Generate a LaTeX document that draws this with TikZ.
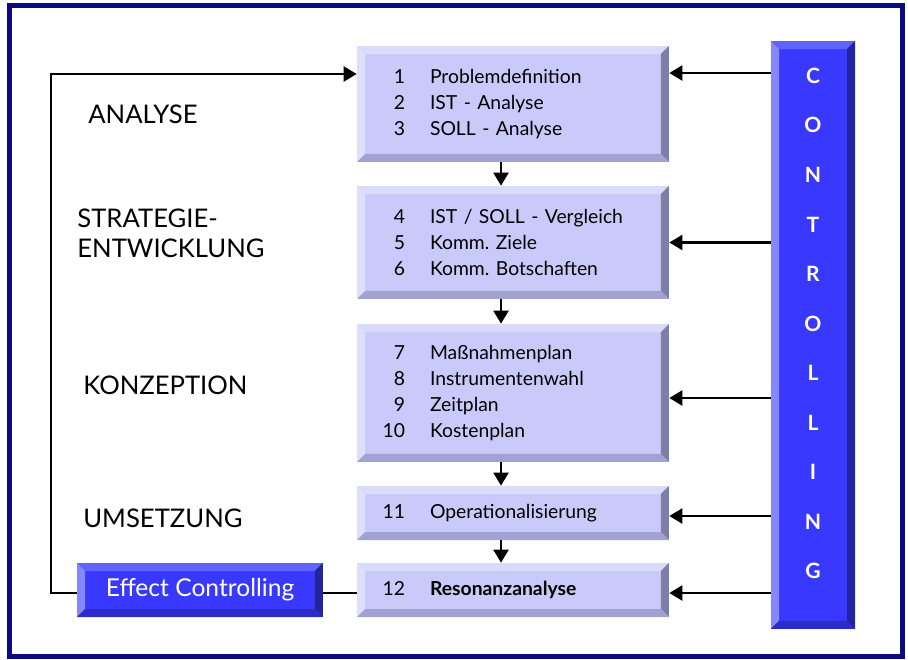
\documentclass[tikz,border=0pt]{standalone}
\usepackage{fontspec}
\setmainfont{Lato}
\usetikzlibrary{arrows.meta}
\frenchspacing
\definecolor{navyframe}{RGB}{10,10,135}
\definecolor{lilaface}{RGB}{202,202,250}
\definecolor{lilatop}{RGB}{218,218,253}
\definecolor{lilaleft}{RGB}{222,222,253}
\definecolor{lilaright}{RGB}{126,126,168}
\definecolor{lilabottom}{RGB}{162,162,210}
\definecolor{blueface}{RGB}{56,56,255}
\definecolor{bluetop}{RGB}{98,98,255}
\definecolor{blueleft}{RGB}{134,134,255}
\definecolor{blueright}{RGB}{36,36,160}
\definecolor{bluebottom}{RGB}{44,44,200}
\newlength\bevw
\setlength\bevw{0.16cm}
\newcommand\schritt[2]{\hspace*{0.56cm}\makebox[0.4cm][r]{#1}\hspace{0.5cm}#2}
\tikzset{
bevel/.style n args={4}{path picture={
\path (path picture bounding box.north west) coordinate (pnw)
      (path picture bounding box.north east) coordinate (pne)
      (path picture bounding box.south west) coordinate (psw)
      (path picture bounding box.south east) coordinate (pse);
\fill[#1] (pnw) -- (pne) -- ([shift={(-\bevw,-\bevw)}]pne) -- ([shift={(\bevw,-\bevw)}]pnw) -- cycle;
\fill[#2] (pnw) -- (psw) -- ([shift={(\bevw,\bevw)}]psw) -- ([shift={(\bevw,-\bevw)}]pnw) -- cycle;
\fill[#3] (pne) -- (pse) -- ([shift={(-\bevw,\bevw)}]pse) -- ([shift={(-\bevw,-\bevw)}]pne) -- cycle;
\fill[#4] (psw) -- (pse) -- ([shift={(-\bevw,\bevw)}]pse) -- ([shift={(\bevw,\bevw)}]psw) -- cycle;
}},
stepbox/.style={rectangle, fill=lilaface, inner sep=0pt, text width=6.24cm, align=left, font=\fontsize{11}{14.7}\selectfont, bevel={lilatop}{lilaleft}{lilaright}{lilabottom}},
bluebox/.style={rectangle, fill=blueface, inner sep=0pt, text=white, bevel={bluetop}{blueleft}{blueright}{bluebottom}},
phase/.style={anchor=west, inner sep=0pt, align=left, font=\fontsize{14.6}{17}\selectfont},
flow/.style={black, line width=1.3pt, -{Triangle[length=0.26cm,width=0.3cm]}},
plain/.style={black, line width=1.3pt},
}
\begin{document}
\begin{tikzpicture}[x=0.02cm,y=-0.02cm]
\useasboundingbox (0,0) rectangle (908,659);
\draw[navyframe, line width=2.7pt] (9.5,5.5) rectangle (902.5,656.5);
\node[stepbox, minimum height=2.32cm] at (513,104) (analyse) {\schritt{1}{Problemdefinition}\\ \schritt{2}{IST - Analyse}\\ \schritt{3}{SOLL - Analyse}};
\node[stepbox, minimum height=2.26cm] at (513,242.5) (strategie) {\schritt{4}{IST / SOLL - Vergleich}\\ \schritt{5}{Komm. Ziele}\\ \schritt{6}{Komm. Botschaften}};
\node[stepbox, minimum height=2.76cm] at (513,393) (konzeption) {\schritt{7}{Maßnahmenplan}\\ \schritt{8}{Instrumentenwahl}\\ \schritt{9}{Zeitplan}\\ \schritt{10}{Kostenplan}};
\node[stepbox, minimum height=1.08cm] at (513,513) (umsetzung) {\schritt{11}{Operationalisierung}};
\node[stepbox, minimum height=1.08cm] at (513,590) (resonanz) {\schritt{12}{\textbf{Resonanzanalyse}}};
\node[bluebox, minimum width=4.92cm, minimum height=1.08cm, font=\fontsize{14}{17}\selectfont] at (200,590) (effect) {Effect Controlling};
\node[bluebox, minimum width=1.68cm, minimum height=11.76cm] at (813,335) (controlling) {};
\node[text=white, inner sep=0pt, align=center, font=\fontsize{12}{28.2}\selectfont\bfseries] at ([yshift=0.23cm]controlling.center) (ctrltext) {C\\O\\N\\T\\R\\O\\L\\L\\I\\N\\G};
\node[phase] at (88,114) (lblanalyse) {ANALYSE};
\node[phase] at (77,233) (lblstrategie) {STRATEGIE-\\ENTWICKLUNG};
\node[phase] at (83,385) (lblkonzeption) {KONZEPTION};
\node[phase] at (83,518) (lblumsetzung) {UMSETZUNG};
\coordinate (inanalyse) at ([yshift=0.62cm]analyse.east);
\coordinate (inkonzeption) at ([yshift=-0.1cm]konzeption.east);
\coordinate (inumsetzung) at ([yshift=-0.06cm]umsetzung.east);
\coordinate (inresonanz) at ([yshift=-0.06cm]resonanz.east);
\coordinate (backin) at ([yshift=0.6cm]analyse.west);
\draw[flow] ([xshift=-0.24cm]analyse.south) -- ([xshift=-0.24cm]strategie.north);
\draw[flow] ([xshift=-0.24cm]strategie.south) -- ([xshift=-0.24cm]konzeption.north);
\draw[flow] ([xshift=-0.24cm]konzeption.south) -- ([xshift=-0.24cm]umsetzung.north);
\draw[flow] ([xshift=-0.24cm]umsetzung.south) -- ([xshift=-0.24cm]resonanz.north);
\draw[flow] (controlling.west |- inanalyse) -- (inanalyse);
\draw[flow] (controlling.west |- strategie.east) -- (strategie.east);
\draw[flow] (controlling.west |- inkonzeption) -- (inkonzeption);
\draw[flow] (controlling.west |- inumsetzung) -- (inumsetzung);
\draw[flow] (controlling.west |- inresonanz) -- (inresonanz);
\draw[plain] ([yshift=-0.06cm]effect.east) -- ([yshift=-0.06cm]resonanz.west);
\draw[flow] ([yshift=-0.06cm]effect.west) -- ++(-0.52cm,0) |- (backin);
\end{tikzpicture}
\end{document}
